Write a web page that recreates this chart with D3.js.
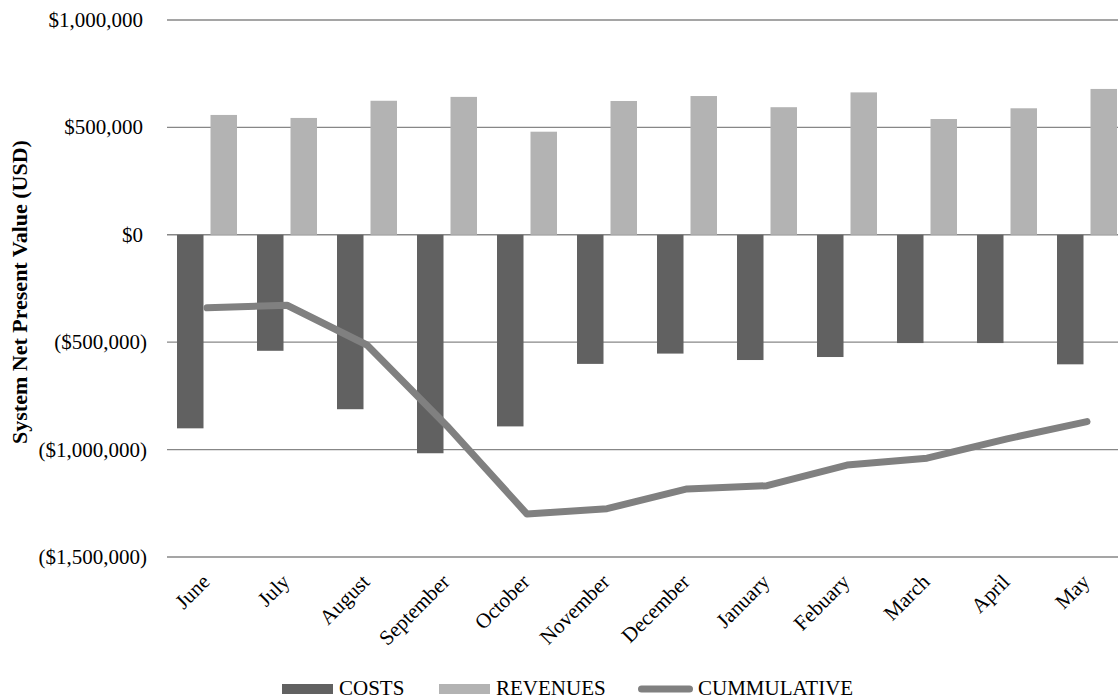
<!DOCTYPE html>
<html>
<head>
<meta charset="utf-8">
<script src="https://cdn.jsdelivr.net/npm/d3@7/dist/d3.min.js"></script>
<style>
  html, body { margin: 0; padding: 0; background: #fff; }
  svg { display: block; }
  text { font-family: "Liberation Serif", "Times New Roman", serif; fill: #000; }
</style>
</head>
<body>
<svg id="chart" width="1118" height="700"></svg>
<script>
// Monthly figures (USD)
const months = ["June", "July", "August", "September", "October", "November",
                "December", "January", "Febuary", "March", "April", "May"];
const costs = [-901000, -540000, -812000, -1017000, -892000, -601000,
               -553000, -583000, -569000, -504000, -504000, -603000];
const revenues = [558000, 544000, 624000, 642000, 480000, 623000,
                  646000, 594000, 663000, 539000, 589000, 679000];
const cumulative = [-340000, -328000, -513000, -890000, -1300000, -1275000,
                    -1183000, -1168000, -1072000, -1040000, -950000, -870000];
const yTicks = [1000000, 500000, 0, -500000, -1000000, -1500000];
const seriesNames = ["COSTS", "REVENUES", "CUMMULATIVE"];

const colors = { COSTS: "#616161", REVENUES: "#b3b3b3", CUMMULATIVE: "#808080" };

const svg = d3.select("#chart");

const x = d3.scaleBand().domain(months).range([167, 1127])
  .paddingInner(0.25).paddingOuter(0.125);
const x1 = d3.scaleBand().domain(["COSTS", "REVENUES"]).range([0, x.bandwidth()])
  .paddingInner(0.209).paddingOuter(0);
const y = d3.scaleLinear().domain([-1500000, 1000000]).range([557, 20]);

const money = v => {
  const s = "$" + d3.format(",")(Math.abs(v));
  return v < 0 ? "(" + s + ")" : s;
};

// gridlines
svg.append("g").selectAll("line").data(yTicks).join("line")
  .attr("x1", 167).attr("x2", 1127)
  .attr("y1", d => y(d)).attr("y2", d => y(d))
  .attr("stroke", "#878787").attr("stroke-width", d => d === 0 ? 1.6 : 1.3);

// y tick labels
svg.append("g").selectAll("text").data(yTicks).join("text")
  .attr("x", d => d < 0 ? 147 : 143)
  .attr("y", d => y(d))
  .attr("dy", "0.33em")
  .attr("text-anchor", "end")
  .style("font-size", "21px")
  .text(money);

// y axis title
svg.append("text")
  .attr("transform", "translate(27,292) rotate(-90)")
  .attr("text-anchor", "middle")
  .style("font-size", "22px").style("font-weight", "bold")
  .text("System Net Present Value (USD)");

// bars
const rows = months.map((m, i) => ({ m, COSTS: costs[i], REVENUES: revenues[i] }));
const groups = svg.append("g").selectAll("g").data(rows).join("g")
  .attr("transform", d => `translate(${x(d.m)},0)`);
groups.selectAll("rect")
  .data(d => ["COSTS", "REVENUES"].map(k => ({ k, v: d[k] })))
  .join("rect")
  .attr("x", d => x1(d.k))
  .attr("width", x1.bandwidth())
  .attr("y", d => Math.min(y(d.v), y(0)))
  .attr("height", d => Math.abs(y(d.v) - y(0)))
  .attr("fill", d => colors[d.k]);

// cumulative line
const line = d3.line()
  .x((d, i) => x(months[i]) + x.bandwidth() / 2)
  .y(d => y(d));
svg.append("path").datum(cumulative)
  .attr("d", line)
  .attr("fill", "none")
  .attr("stroke", colors.CUMMULATIVE)
  .attr("stroke-width", 7)
  .attr("stroke-linecap", "round")
  .attr("stroke-linejoin", "round");

// x labels
svg.append("g").selectAll("text").data(months).join("text")
  .attr("transform", d => `translate(${x(d) + x.bandwidth() / 2 + 4},583) rotate(-45)`)
  .attr("text-anchor", "end")
  .style("font-size", "21px")
  .text(d => d);

// legend
const legendX = [282, 439, 638];
const legendBase = 695;
const legend = svg.append("g").selectAll("g").data(seriesNames).join("g")
  .attr("transform", (d, i) => `translate(${legendX[i]},0)`);
legend.each(function (d) {
  const g = d3.select(this);
  if (d === "CUMMULATIVE") {
    g.append("line").attr("x1", 3.5).attr("x2", 51.5)
      .attr("y1", legendBase - 6).attr("y2", legendBase - 6)
      .attr("stroke", colors[d]).attr("stroke-width", 7).attr("stroke-linecap", "round");
    g.append("text").attr("x", 60).attr("y", legendBase).style("font-size", "21px").text(d);
  } else {
    g.append("rect").attr("x", 0).attr("y", legendBase - 11).attr("width", 51).attr("height", 10)
      .attr("fill", colors[d]);
    g.append("text").attr("x", 57).attr("y", legendBase).style("font-size", "21px").text(d);
  }
});
</script>
</body>
</html>
